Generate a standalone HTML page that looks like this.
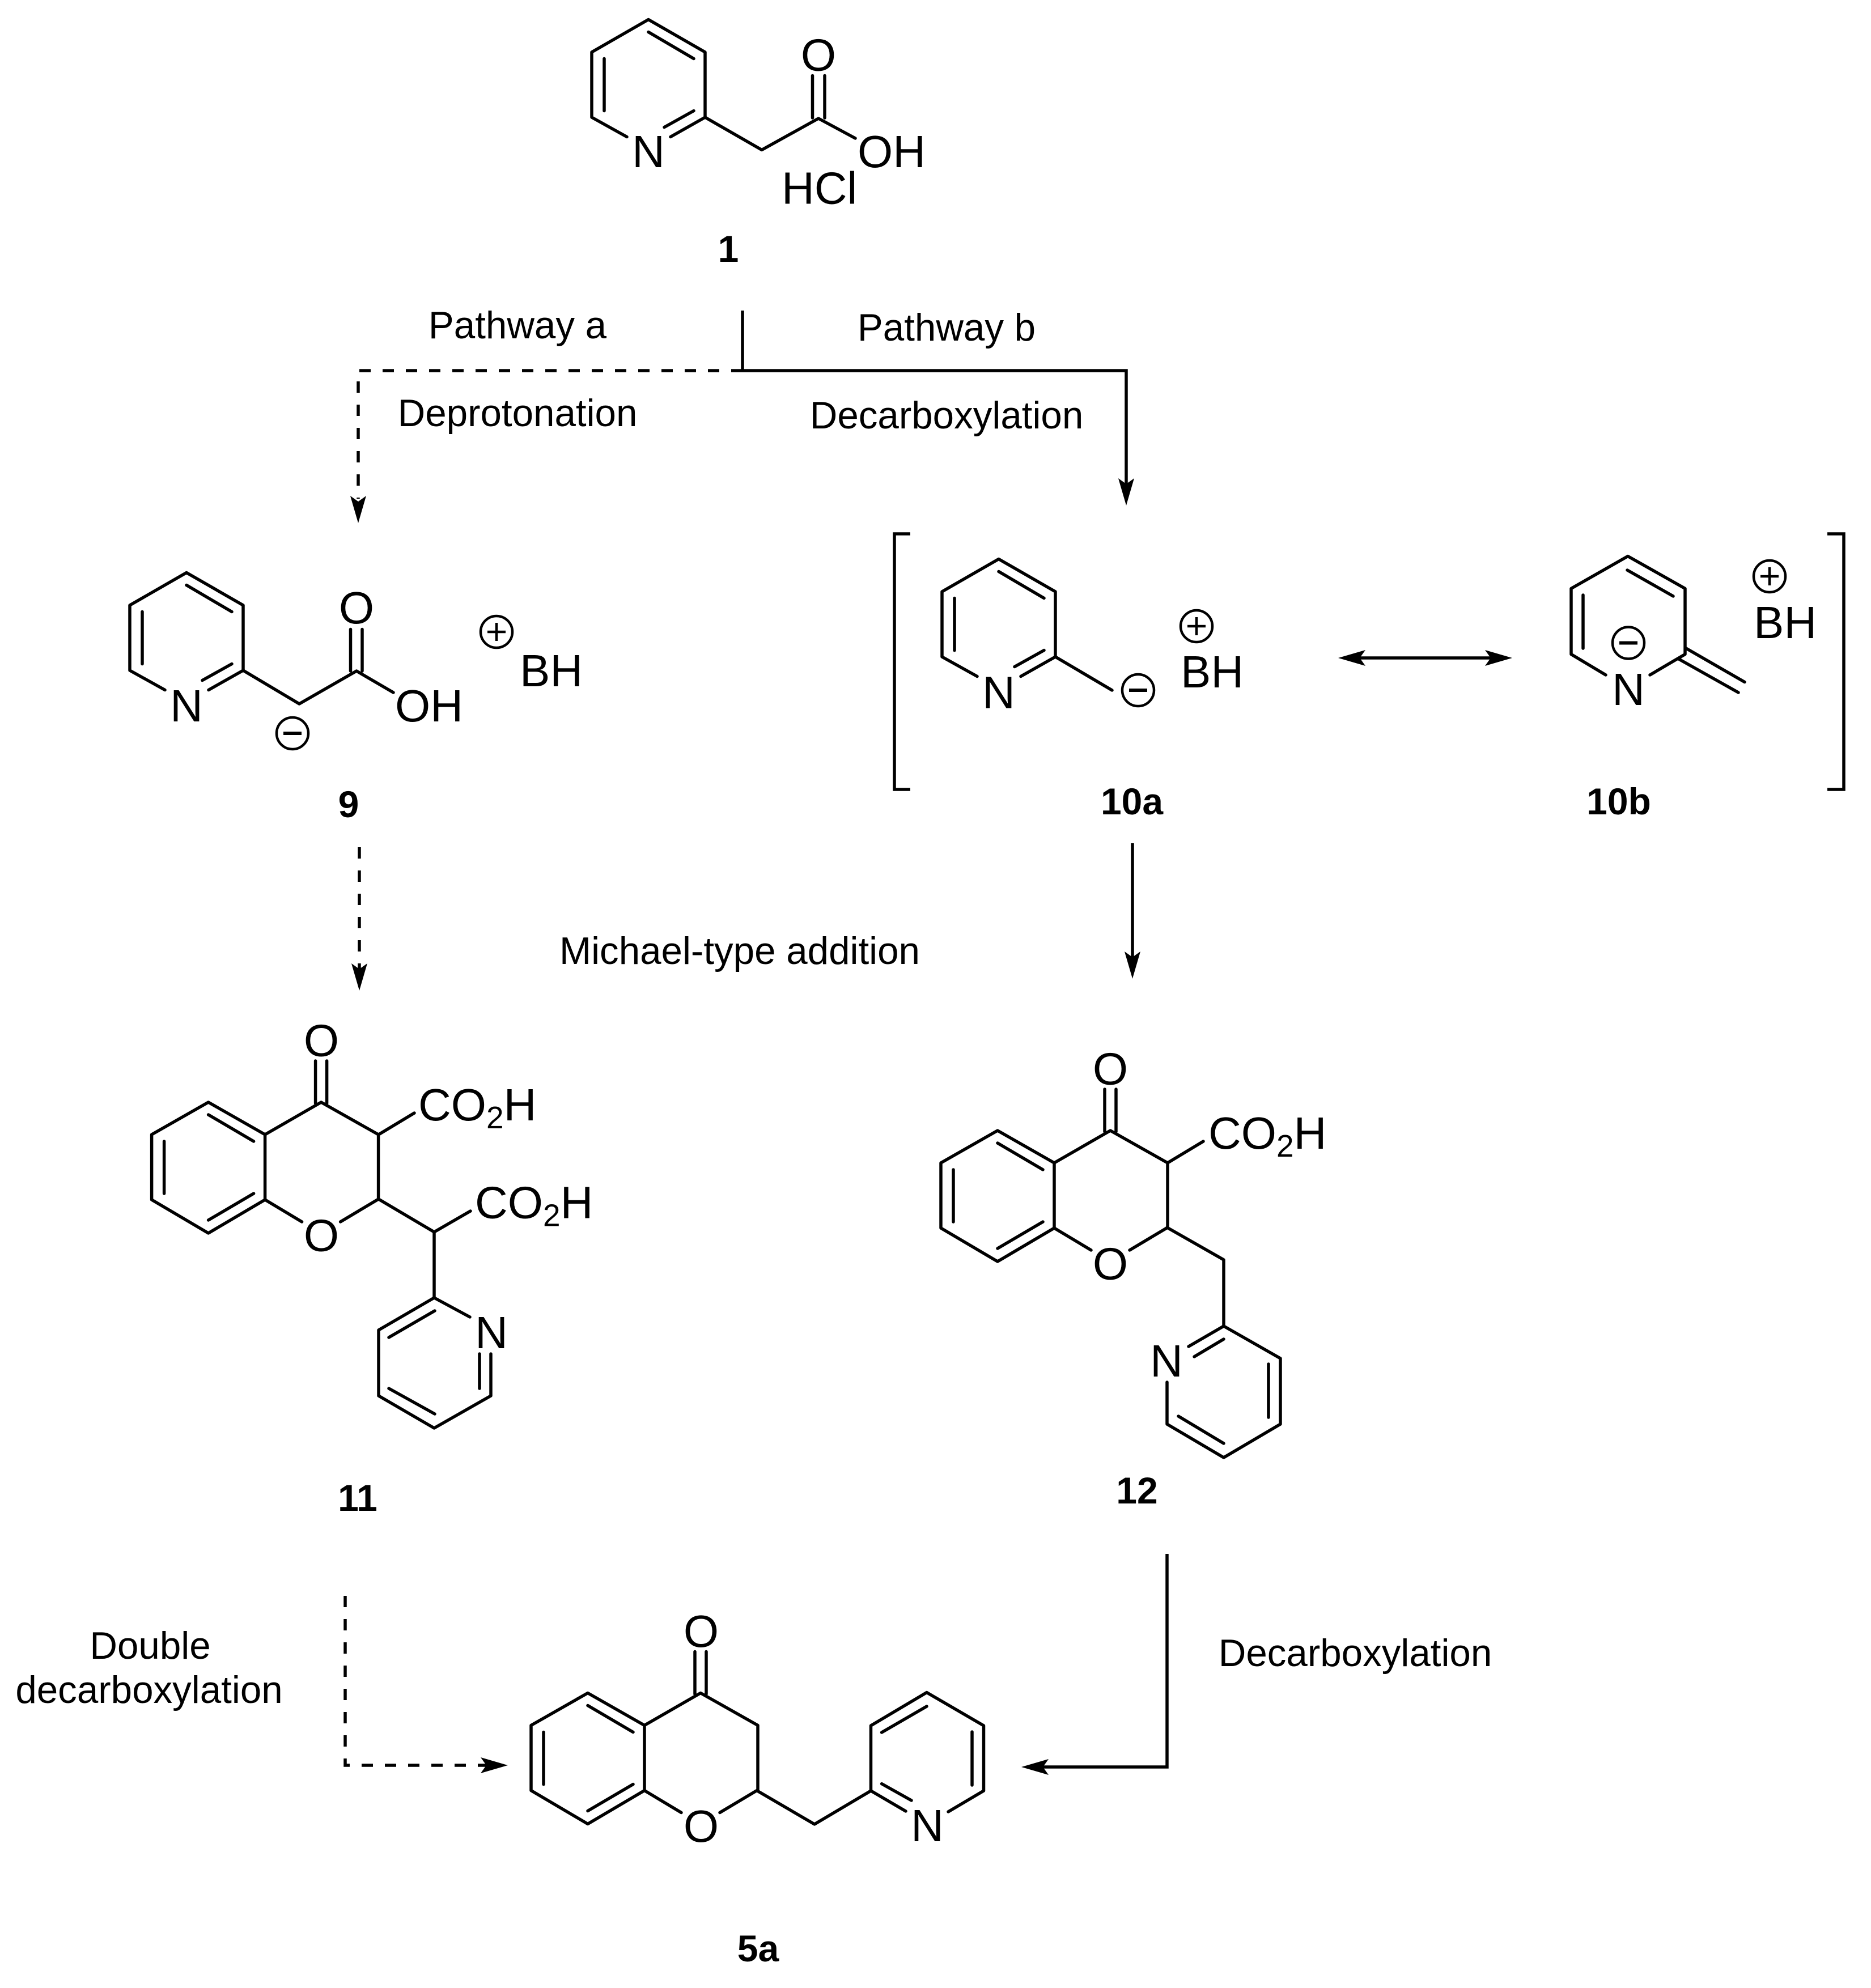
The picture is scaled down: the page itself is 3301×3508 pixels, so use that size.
<!DOCTYPE html>
<html>
<head>
<meta charset="utf-8">
<style>
html,body{margin:0;padding:0;background:#fff}
svg{display:block}
text{font-family:"Liberation Sans",Arial,sans-serif;fill:#000}
.a{font-size:80px}
.m{font-size:80px;text-anchor:middle}
.l{font-size:67.3px;text-anchor:middle}
.b{font-size:66px;font-weight:bold;text-anchor:middle}
.s{fill:none;stroke:#000;stroke-width:5.5;stroke-linecap:round;stroke-linejoin:round}
.f{fill:none;stroke:#000;stroke-width:5.5;stroke-linecap:butt;stroke-linejoin:miter}
.d{fill:none;stroke:#000;stroke-width:5.5;stroke-dasharray:20 21}
.c{fill:none;stroke:#000;stroke-width:4.5}
</style>
</head>
<body>
<svg xmlns="http://www.w3.org/2000/svg" width="3301" height="3508" viewBox="0 0 3301 3508">
<defs>
<g id="pyr" class="s">
<path d="M-38,92L-100,57.5V-57.5L0,-115L100,-57.5V57.5L39,92"/>
<path d="M-78,-46V46M0,-93L80,-46M28,75L80,46"/>
</g>
<g id="core" class="s">
<path d="M0,-115L100,-58V57L0,116L-100,57V-58Z"/>
<path d="M-78,-46V46M0,-93L80,-46M0,93L80,46"/>
<path d="M100,-58L199,-115L300,-58V56L233,96M100,57L165,96"/>
<path d="M189,-113V-188M209,-113V-188"/>
</g>
<g id="minus"><circle class="c" r="28"/><path d="M-16,0H16" stroke="#000" stroke-width="6"/></g>
<g id="plus"><circle class="c" r="28"/><path d="M-16,0H16M0,-16V16" stroke="#000" stroke-width="4.5"/></g>
<path id="ah" d="M0,0L-48,-14L-38,0L-48,14Z" fill="#000"/>
</defs>
<rect width="3301" height="3508" fill="#fff"/>

<!-- compound 1 -->
<use href="#pyr" x="1144" y="149.5"/>
<path class="s" d="M1244,207L1344,264.5L1444,209L1509,244M1433.5,208V133.5M1455,208V133.5"/>
<text class="m" x="1144" y="295">N</text>
<text class="m" x="1444" y="124.5">O</text>
<text class="a" x="1513" y="295">OH</text>
<text class="a" x="1379" y="359.5">HCl</text>
<text class="b" x="1285" y="462">1</text>

<!-- top branch -->
<path class="f" d="M1310,548V654M1310,654H1987V860"/>
<path class="d" d="M1310,654H632V880"/>
<use href="#ah" transform="translate(1987,892) rotate(90)"/>
<use href="#ah" transform="translate(632,923) rotate(90)"/>
<text class="l" x="913" y="597">Pathway a</text>
<text class="l" x="1670" y="601">Pathway b</text>
<text class="l" x="913" y="752">Deprotonation</text>
<text class="l" x="1670" y="756">Decarboxylation</text>

<!-- compound 9 -->
<use href="#pyr" x="329" y="1125.5"/>
<path class="s" d="M429,1183L528,1242L629,1184L694,1222M618.500,1184V1110.500M639,1184V1110.500"/>
<text class="m" x="329" y="1273">N</text>
<text class="m" x="629" y="1100">O</text>
<text class="a" x="697" y="1273">OH</text>
<use href="#minus" x="516" y="1294"/>
<use href="#plus" x="876" y="1115"/>
<text class="a" x="917" y="1211">BH</text>
<text class="b" x="615" y="1442">9</text>

<!-- brackets -->
<path class="f" d="M1606,942H1578V1393H1606"/>
<path class="f" d="M3224,942H3253V1393H3224"/>

<!-- compound 10a -->
<use href="#pyr" x="1762" y="1101.500"/>
<path class="s" d="M1862,1159L1962,1218"/>
<text class="m" x="1762" y="1249.500">N</text>
<use href="#minus" x="2008" y="1218"/>
<use href="#plus" x="2111" y="1105"/>
<text class="a" x="2083" y="1213">BH</text>
<text class="b" x="1997" y="1437">10a</text>

<!-- resonance arrow -->
<path class="f" d="M2395,1161H2635"/>
<use href="#ah" transform="translate(2361,1161) rotate(180)"/>
<use href="#ah" transform="translate(2668,1161)"/>

<!-- compound 10b -->
<path class="s" d="M2833,1191L2772,1154.500V1038.500L2872,981.500L2973,1038.500V1154.500L2911,1191M2793,1050V1144M2871,1006L2952,1052M2973,1143L3078,1203.500M2962,1163L3067,1222"/>
<text class="m" x="2873" y="1244">N</text>
<use href="#minus" x="2873" y="1134.500"/>
<use href="#plus" x="3122" y="1017"/>
<text class="a" x="3094" y="1126">BH</text>
<text class="b" x="2856" y="1437">10b</text>

<!-- mid arrows -->
<path class="d" d="M634,1495V1716"/>
<use href="#ah" transform="translate(634,1748) rotate(90)"/>
<path class="f" d="M1998,1488V1695"/>
<use href="#ah" transform="translate(1998,1727) rotate(90)"/>
<text class="l" x="1305" y="1701">Michael-type addition</text>

<!-- compound 11 -->
<use href="#core" x="367.600" y="2060"/>
<path class="s" d="M668,2002L731,1964M668,2116L766,2174L830,2137M766,2174V2290"/>
<path class="s" d="M829,2324L766,2290L668,2347V2463L766,2520L866,2463V2389M767,2313L686,2360M686,2450L767,2495M846,2389V2450"/>
<text class="m" x="567" y="1863.500">O</text>
<text class="m" x="567" y="2207.500">O</text>
<text class="a" x="738" y="1977">CO<tspan font-size="55" dy="14">2</tspan><tspan dy="-14">H</tspan></text>
<text class="a" x="838" y="2149.500">CO<tspan font-size="55" dy="14">2</tspan><tspan dy="-14">H</tspan></text>
<text class="m" x="867" y="2379">N</text>
<text class="b" x="631" y="2666">11</text>

<!-- compound 12 -->
<use href="#core" x="1760" y="2110"/>
<path class="s" d="M2060,2052L2123,2014"/>
<path class="s" d="M2059,2166L2159,2223V2340L2259,2397V2513L2159,2572L2059,2513V2439M2159,2340L2097,2376M2107,2394L2159,2363M2238,2407V2501M2079,2499L2159,2547"/>
<text class="m" x="1959" y="1913.500">O</text>
<text class="m" x="1959" y="2257.500">O</text>
<text class="a" x="2132" y="2027">CO<tspan font-size="55" dy="14">2</tspan><tspan dy="-14">H</tspan></text>
<text class="m" x="2058" y="2429">N</text>
<text class="b" x="2006" y="2653">12</text>

<!-- bottom arrows -->
<path class="d" d="M609,2816V3115H866"/>
<use href="#ah" transform="translate(896,3115)"/>
<path class="f" d="M2059,2742V3118H1840"/>
<use href="#ah" transform="translate(1802,3118) rotate(180)"/>
<text class="l" x="265" y="2927">Double</text>
<text class="l" x="263" y="3005">decarboxylation</text>
<text class="l" x="2391" y="2940">Decarboxylation</text>

<!-- compound 5a -->
<use href="#core" x="1037" y="3102.500"/>
<path class="s" d="M1336,3160L1437,3219L1536.500,3160V3045L1635,2986.500L1735.500,3045V3160L1673,3197M1536.500,3160L1598,3196M1555.600,3147.600L1608,3177M1555.600,3057L1635,3011M1715,3056V3150"/>
<text class="m" x="1237" y="2906">O</text>
<text class="m" x="1237" y="3250">O</text>
<text class="m" x="1636" y="3249">N</text>
<text class="b" x="1337.500" y="3461">5a</text>
</svg>
</body>
</html>
